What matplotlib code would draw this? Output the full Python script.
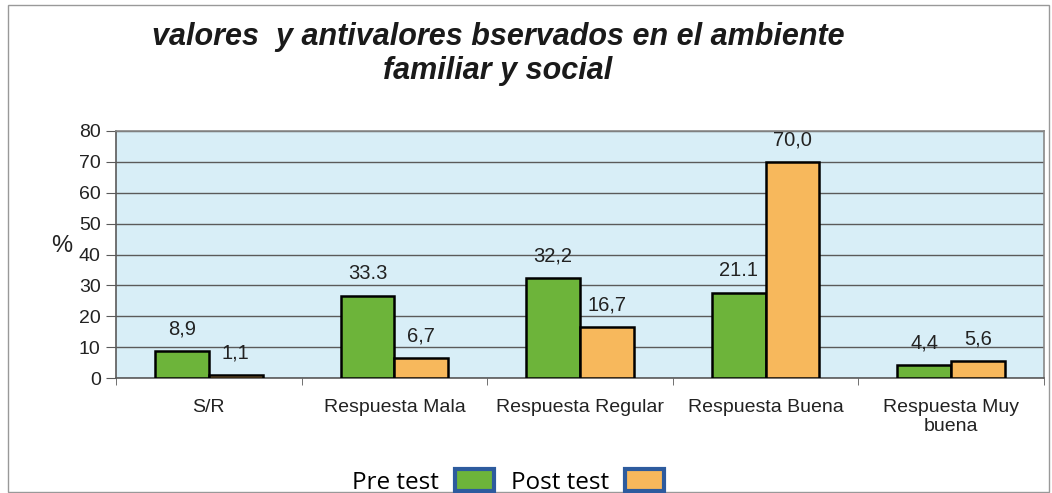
import matplotlib
matplotlib.use("Agg")
import matplotlib.pyplot as plt
from matplotlib.patches import Patch, Rectangle
from matplotlib import font_manager
import numpy as np

categories = ["S/R", "Respuesta Mala", "Respuesta Regular", "Respuesta Buena", "Respuesta Muy\nbuena"]
pre_test = [8.9, 26.6, 32.3, 27.7, 4.3]
post_test = [1.1, 6.6, 16.6, 70.0, 5.5]
pre_labels = ["8,9", "33.3", "32,2", "21.1", "4,4"]
post_labels = ["1,1", "6,7", "16,7", "70,0", "5,6"]
yticks = [0, 10, 20, 30, 40, 50, 60, 70, 80]
series_names = ["Pre test", "Post test"]
title = "valores  y antivalores bservados en el ambiente\nfamiliar y social"

available = {f.name for f in font_manager.fontManager.ttflist}
title_font = ["Liberation Sans Narrow", "Liberation Sans"] if "Liberation Sans Narrow" in available else ["Liberation Sans"]
body_font = ["Liberation Sans", "DejaVu Sans"]

GREEN = "#6db43a"
ORANGE = "#f7b85c"
BG = "#d8eef7"
GRID = "#5a5a5a"
TXT = "#222222"

W, H = 1052, 493
fig = plt.figure(figsize=(W / 100, H / 100), dpi=100)
ax = fig.add_axes([116 / W, 1 - 378.3 / H, (1044 - 116) / W, (378.3 - 130.7) / H])
ax.set_facecolor(BG)

x = np.arange(len(categories))
bw = 0.29
b1 = ax.bar(x - bw / 2, pre_test, bw, color=GREEN, edgecolor="black", linewidth=1.8, zorder=3)
b2 = ax.bar(x + bw / 2, post_test, bw, color=ORANGE, edgecolor="black", linewidth=1.8, zorder=3)

for bars, labs in ((b1, pre_labels), (b2, post_labels)):
    for r, t in zip(bars, labs):
        ax.annotate(t, (r.get_x() + r.get_width() / 2, r.get_height()),
                    xytext=(0, 9), textcoords="offset points", ha="center", va="bottom",
                    fontsize=14.5, family=body_font, color=TXT)

ax.set_xlim(-0.5, len(categories) - 0.5)
ax.set_ylim(0, 80)
ax.set_yticks(yticks)
ax.set_yticklabels([str(v) for v in yticks], fontsize=14, family=body_font, color=TXT)
ax.yaxis.grid(True, color=GRID, linewidth=1.0, zorder=1)
ax.set_axisbelow(True)
ax.tick_params(axis="y", direction="out", length=7, color=GRID, pad=4)

ax.set_xticks(x)
ax.set_xticklabels(categories, fontsize=14, family=body_font, color=TXT, linespacing=1.15)
ax.set_xticks(np.arange(-0.5, len(categories)), minor=True)
ax.tick_params(axis="x", which="major", length=0, pad=15)
ax.tick_params(axis="x", which="minor", direction="out", length=5, color=GRID)

for s in ["left", "right", "top", "bottom"]:
    ax.spines[s].set_color("#888888")
    ax.spines[s].set_linewidth(1.2)
ax.spines["bottom"].set_color(GRID)
ax.spines["left"].set_color(GRID)

fig.text(62 / W, 1 - 246 / H, "%", fontsize=17, family=body_font, ha="center", va="center", color=TXT)

fig.text(498 / W, 1 - 54 / H, title, fontsize=22, fontweight="bold", fontstyle="italic",
         family=title_font, ha="center", va="center", linespacing=1.15, color="#1a1a1a")

handles = [Patch(facecolor=GREEN, edgecolor="#2d5b9e", linewidth=3),
           Patch(facecolor=ORANGE, edgecolor="#2d5b9e", linewidth=3)]
fig.legend(handles, series_names, loc="center", bbox_to_anchor=(508 / W, 1 - 482 / H), ncol=2,
           markerfirst=False, frameon=False, prop={"family": ["Open Sans", "DejaVu Sans"], "size": 17.5},
           handlelength=1.6, handleheight=1.0, columnspacing=0.7, handletextpad=0.65,
           borderpad=0.1)

fig.patches.append(Rectangle((8 / W, 1 / H), (1049 - 8) / W, (488 - 1) / H, transform=fig.transFigure,
                             fill=False, edgecolor="#999999", linewidth=1.0))

fig.savefig("out.png", dpi=100, facecolor="white")
